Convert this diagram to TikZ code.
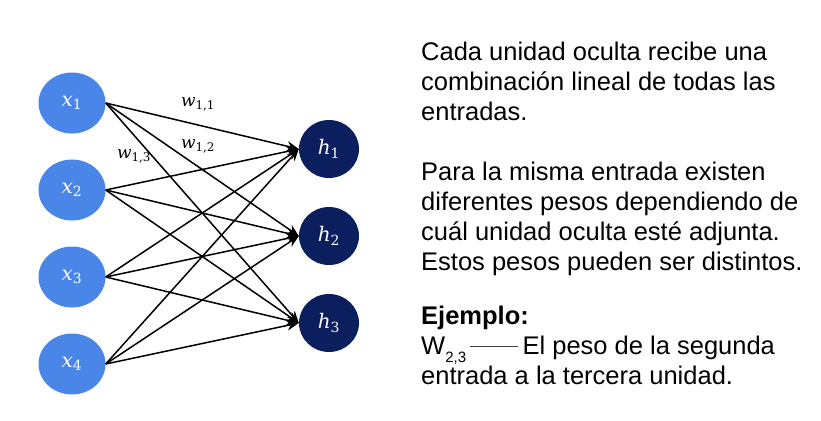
\documentclass[tikz,border=0pt]{standalone}
\usepackage{fontspec}
\usepackage{xcolor}
\setmainfont{Liberation Sans}
\newfontfamily\unitfont{DejaVu Serif}
\usetikzlibrary{arrows.meta,shapes.geometric,positioning}

\definecolor{inblue}{HTML}{4A86E8}
\definecolor{hidnavy}{HTML}{0B1F5E}

% variable with index, set like the slide's math
\newcommand{\unitsym}[2]{{\unitfont\itshape #1}\textsubscript{\unitfont #2}}

\begin{document}
\begin{tikzpicture}[x=1pt,y=-1pt,
  inputunit/.style={ellipse, fill=inblue, minimum width=67pt, minimum height=61pt, inner sep=0pt, text=white, font=\fontsize{20}{20}\selectfont},
  hiddenunit/.style={ellipse, fill=hidnavy, minimum width=60pt, minimum height=58pt, inner sep=0pt, text=white, font=\fontsize{20}{20}\selectfont},
  weightline/.style={-{Stealth[length=12pt,width=10pt]}, line width=1.5pt},
  weightlabel/.style={font=\fontsize{17}{17}\selectfont},
  infotext/.style={anchor=north west, align=left, inner sep=0pt, font=\fontsize{25.5}{30}\selectfont}]
\useasboundingbox (0,0) rectangle (821,420);

% Input units
\node[inputunit] (x1) at (72,103) {\unitsym{x}{1}};
\node[inputunit] (x2) at (72,190) {\unitsym{x}{2}};
\node[inputunit] (x3) at (72,277) {\unitsym{x}{3}};
\node[inputunit] (x4) at (72,364) {\unitsym{x}{4}};

% Hidden units
\node[hiddenunit] (h1) at (329,149) {\unitsym{h}{1}};
\node[hiddenunit] (h2) at (329,236) {\unitsym{h}{2}};
\node[hiddenunit] (h3) at (329,323) {\unitsym{h}{3}};

% Connections
\draw[weightline] (x1.east) -- (h1.west);
\draw[weightline] (x1.east) -- (h2.west);
\draw[weightline] (x1.east) -- (h3.west);
\draw[weightline] (x2.east) -- (h1.west);
\draw[weightline] (x2.east) -- (h2.west);
\draw[weightline] (x2.east) -- (h3.west);
\draw[weightline] (x3.east) -- (h1.west);
\draw[weightline] (x3.east) -- (h2.west);
\draw[weightline] (x3.east) -- (h3.west);
\draw[weightline] (x4.east) -- (h1.west);
\draw[weightline] (x4.east) -- (h2.west);
\draw[weightline] (x4.east) -- (h3.west);

% Weight labels
\node[weightlabel] (w11) at (198,104) {\unitsym{w}{1,1}};
\node[weightlabel] (w12) at (198,146) {\unitsym{w}{1,2}};
\node[weightlabel] (w13) at (134,156) {\unitsym{w}{1,3}};

% Explanation
\node[infotext] (para1) at (421,42) {Cada unidad oculta recibe una\\combinación lineal de todas las\\entradas.};
\node[infotext] (para2) at (421,162) {Para la misma entrada existen\\diferentes pesos dependiendo de\\cuál unidad oculta esté adjunta.\\Estos pesos pueden ser distintos.};
\node[infotext] (example) at (421,306) {\textbf{Ejemplo:}\\W\raisebox{-8pt}{\fontsize{15}{15}\selectfont 2,3}\,\textcolor{darkgray}{\rule[8pt]{48pt}{1pt}}\,El peso de la segunda\\entrada a la tercera unidad.};

\end{tikzpicture}
\end{document}
